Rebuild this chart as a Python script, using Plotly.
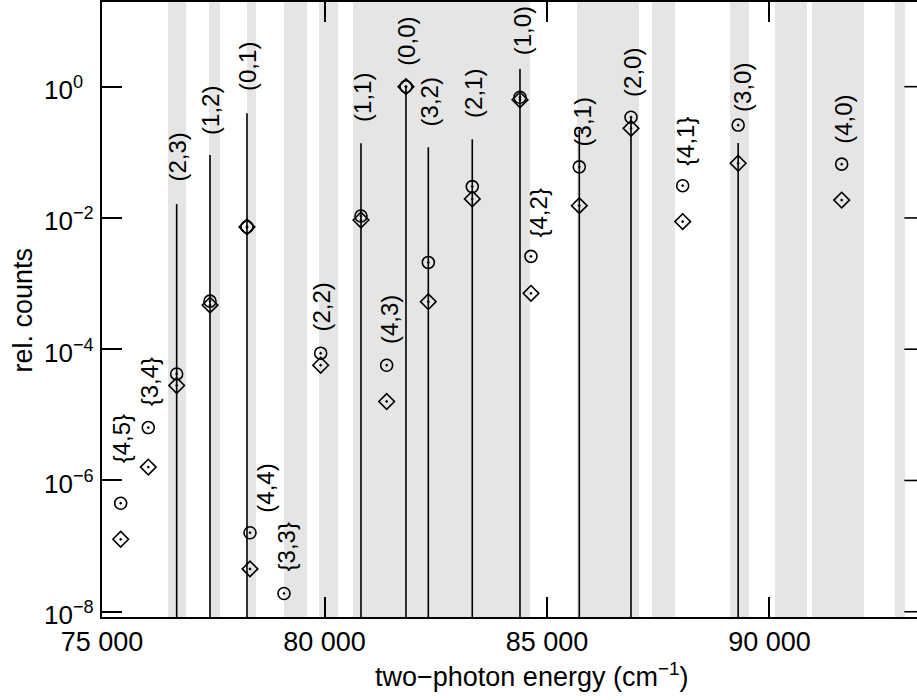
import math
import plotly.graph_objects as go

# ---------------- data ----------------
labels = ["{4,5}", "{3,4}", "(2,3)", "(1,2)", "(0,1)", "(4,4)", "{3,3}", "(2,2)",
          "(1,1)", "(4,3)", "(0,0)", "(3,2)", "(2,1)", "(1,0)", "{4,2}", "(3,1)",
          "(2,0)", "{4,1}", "(3,0)", "(4,0)"]
energy = [75420, 76040, 76678, 77427, 78258, 78326, 79090, 79914,
          80820, 81397, 81831, 82333, 83321, 84393, 84640, 85726,
          86888, 88049, 89296, 91622]
circle_counts = [4.5e-7, 6.4e-6, 4.2e-5, 5.4e-4, 7.3e-3, 1.6e-7, 1.9e-8, 8.7e-5,
                 1.07e-2, 5.7e-5, 1.0, 2.1e-3, 3.0e-2, 0.69, 2.6e-3, 0.060,
                 0.342, 0.031, 0.26, 0.066]
diamond_counts = [1.27e-7, 1.6e-6, 2.8e-5, 4.7e-4, 7.3e-3, 4.5e-8, None, 5.7e-5,
                  9.3e-3, 1.6e-5, 1.0, 5.3e-4, 1.95e-2, 0.63, 7.1e-4, 0.0154,
                  0.232, 8.8e-3, 0.068, 0.0187]

# stick spectrum (lines from the bottom)
stick_energy = [76678, 77427, 78258, 80820, 81831, 82333, 83321, 84393, 85726, 86888, 89296]
stick_height = [0.0163, 0.091, 0.393, 0.137, 1.0, 0.119, 0.158, 1.86, 0.22, 0.35, 0.138]

# shaded energy windows
band_start = [76483, 77404, 78258, 79090, 79876, 80640, 85674, 87360, 89112, 90123, 90955, 92819]
band_end = [76888, 77652, 78461, 79607, 80303, 84618, 87067, 87876, 89539, 90843, 92123, 93044]

# label placement (energy of label centre, log10 of label centre)
label_x = [75447, 76056, 76708, 77449, 78281, 78685, 79135, 79943,
           80865, 81449, 81853, 82370, 83359, 84437, 84819, 85786,
           86932, 88100, 89381, 91673]
label_logy = [-5.36, -4.49, -1.08, -0.355, 0.30, -6.11, -7.02, -3.35,
              -0.157, -3.54, 0.697, -0.226, -0.096, 0.857, -1.918, -0.53,
              0.224, -0.828, -0.005, -0.49]

x_ticks = [75000, 80000, 85000, 90000]
x_ticktext = ["75 000", "80 000", "85 000", "90 000"]
y_exps = [-8, -6, -4, -2, 0]
y_ticktext = ["10<sup>\u22128</sup>", "10<sup>\u22126</sup>", "10<sup>\u22124</sup>",
              "10<sup>\u22122</sup>", "10<sup>0</sup>"]

# ---------------- layout constants ----------------
X_MIN, X_MAX = 75000, 93315
Y_MIN, Y_MAX = -8.08, 1.29
STEM_BASE = 1e-9
FONT = "Liberation Sans, Arial, sans-serif"
PLOT_W = 917 - 102

fig = go.Figure()

# shaded bands
for s, e in zip(band_start, band_end):
    fig.add_shape(type="rect", xref="x", yref="paper", x0=s, x1=e, y0=0, y1=1,
                  fillcolor="#e5e5e5", line=dict(width=0), layer="below")

# sticks
sx, sy = [], []
for e, h in zip(stick_energy, stick_height):
    sx += [e, e, None]
    sy += [STEM_BASE, h, None]
fig.add_trace(go.Scatter(x=sx, y=sy, mode="lines",
                         line=dict(color="black", width=1.6),
                         hoverinfo="skip", showlegend=False))

fig.add_trace(go.Scatter(x=energy, y=circle_counts, mode="markers",
                         marker=dict(symbol="circle-open-dot", size=12,
                                     color="black", line=dict(color="black", width=1.6)),
                         showlegend=False))
fig.add_trace(go.Scatter(x=energy, y=diamond_counts, mode="markers",
                         marker=dict(symbol="diamond-open-dot", size=12,
                                     color="black", line=dict(color="black", width=1.6)),
                         showlegend=False))

# peak labels
for t, lx, ly in zip(labels, label_x, label_logy):
    fig.add_annotation(x=lx, y=ly, xref="x", yref="y", text=t, textangle=-90,
                       showarrow=False, xanchor="center", yanchor="middle",
                       font=dict(family=FONT, size=24, color="black"))

# y tick labels (left aligned, as in the reference)
for k, t in zip(y_exps, y_ticktext):
    fig.add_annotation(x=(42 - 102) / PLOT_W, y=k, xref="paper", yref="y", text=t,
                       showarrow=False, xanchor="left", yanchor="middle", yshift=-2,
                       font=dict(family=FONT, size=26, color="black"))

# right-side inward ticks (right axis lies just outside the visible area)
for k in y_exps:
    fy = (k - Y_MIN) / (Y_MAX - Y_MIN)
    fig.add_shape(type="line", xref="paper", yref="paper", x0=0.9845, x1=1.0,
                  y0=fy, y1=fy, line=dict(color="black", width=1.6))

# axis titles
fig.add_annotation(xref="paper", yref="paper", x=0.527, y=-0.094,
                   text="two\u2212photon energy (cm<sup>\u22121</sup>)",
                   showarrow=False, xanchor="center", yanchor="middle",
                   font=dict(family=FONT, size=27, color="black"))
fig.add_annotation(xref="paper", yref="paper", x=-0.097, y=0.5,
                   text="rel. counts", textangle=-90,
                   showarrow=False, xanchor="center", yanchor="middle",
                   font=dict(family=FONT, size=27, color="black"))

fig.update_xaxes(range=[X_MIN, X_MAX], showgrid=False, zeroline=False,
                 showline=True, linecolor="black", linewidth=2, mirror="ticks",
                 ticks="inside", ticklen=20, tickwidth=1.6, tickcolor="black",
                 tickvals=x_ticks, ticktext=x_ticktext,
                 tickfont=dict(family=FONT, size=27, color="black"))
fig.update_yaxes(type="log", range=[Y_MIN, Y_MAX], showgrid=False, zeroline=False,
                 showline=True, linecolor="black", linewidth=2, mirror=False,
                 ticks="inside", ticklen=20, tickwidth=1.6, tickcolor="black",
                 tickvals=[10.0 ** k for k in y_exps], showticklabels=False)

fig.update_layout(width=917, height=700,
                  margin=dict(l=102, r=0, t=2, b=83),
                  paper_bgcolor="white", plot_bgcolor="white",
                  showlegend=False)

fig.write_html("out.html")
